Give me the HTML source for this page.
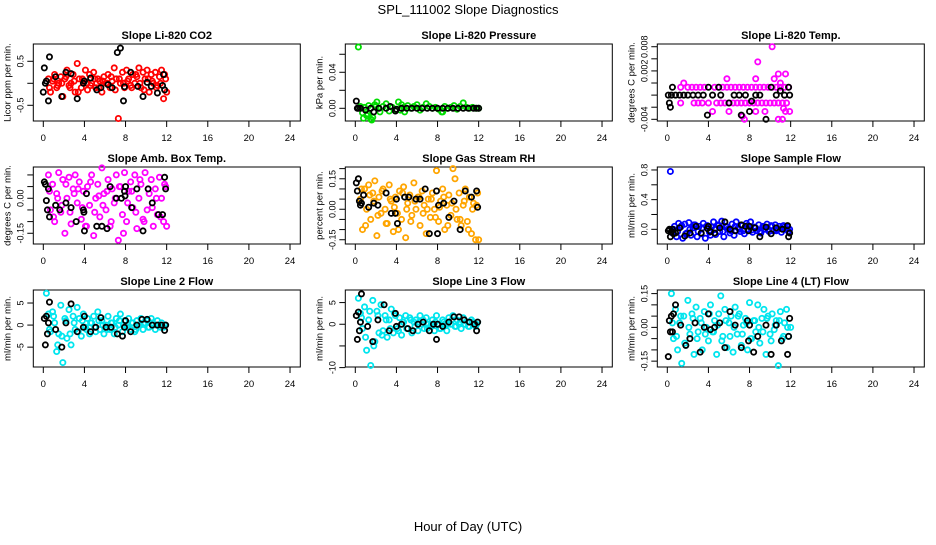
<!DOCTYPE html>
<html><head><meta charset="utf-8"><style>
body{margin:0;background:#fff;}
svg text{font-family:"Liberation Sans",sans-serif;}
</style></head><body>
<svg id="chart" width="936" height="540" viewBox="0 0 936 540" xmlns="http://www.w3.org/2000/svg">
<rect width="936" height="540" fill="#fff"/>
<text x="468" y="14" text-anchor="middle" font-size="13">SPL_111002  Slope Diagnostics</text>
<text x="468" y="531" text-anchor="middle" font-size="13">Hour of Day (UTC)</text>
<g id="panels"></g>
</svg>
<script>
// ---- data (hours, slope values) ----
const xTicks = [0,4,8,12,16,20,24];
const co2X = [0.5,0.7,0.9,1.1,1.3,1.5,1.7,1.9,2.1,2.3,2.5,2.7,2.9,3.1,3.3,3.5,3.7,3.9,4.1,4.3,4.5,4.7,4.9,5.1,5.3,5.5,5.7,5.9,6.1,6.3,6.5,6.7,6.9,7.1,7.3,7.5,7.7,7.9,8.1,8.3,8.5,8.7,8.9,9.1,9.3,9.5,9.7,9.9,10.1,10.3,10.5,10.7,10.9,11.1,11.3,11.5,11.7,11.9,0.6,1.0,1.4,1.8,2.2,2.6,3.0,3.4,3.8,4.2,4.6,5.0,5.4,5.8,6.2,6.6,7.0,7.4,7.8,8.2,8.6,9.0,9.4,9.8,10.2,10.6,11.0,11.4,11.8,12.0];
const co2Y = [0.1,-0.2,0.05,0.2,-0.1,0.0,0.15,-0.3,0.1,0.3,-0.05,0.0,0.2,-0.2,0.45,0.1,-0.1,0.05,0.3,-0.15,0.2,0.0,0.25,-0.1,0.1,0.05,-0.2,0.15,0.0,0.2,-0.1,0.05,0.35,0.1,-0.8,0.0,0.25,-0.1,0.3,0.1,-0.05,0.2,0.0,0.15,0.35,-0.1,0.25,0.1,0.3,-0.2,0.2,0.0,0.25,-0.05,0.15,0.3,-0.35,0.1,-0.1,0.1,-0.05,0.0,0.15,-0.1,0.05,-0.2,0.1,0.0,-0.05,0.1,-0.1,0.05,0.0,0.15,-0.15,0.1,0.0,0.05,-0.1,0.2,0.0,-0.15,0.1,0.05,-0.1,0.0,0.2,-0.2];
const co2BX = [0,0.1,0.2,0.3,0.5,0.6,1.2,1.8,2.2,2.7,3.3,3.9,4.0,4.6,5.2,5.6,6.3,6.7,7.2,7.5,7.8,7.9,8.5,9.2,9.7,10.1,10.5,11.1,11.6,11.7,11.8];
const co2BY = [-0.2,0.35,0.0,0.05,-0.4,0.6,0.15,-0.3,0.25,0.22,-0.35,0.0,0.05,0.12,-0.15,-0.1,-0.03,-0.1,0.7,0.8,-0.4,-0.08,0.25,-0.07,-0.3,0.02,-0.07,-0.22,-0.05,0.2,-0.15];

const presX = [0.3,0.5,0.7,0.9,1.1,1.3,1.5,1.7,1.9,2.1,2.4,2.7,3.0,3.3,3.6,3.9,4.2,4.5,4.8,5.1,5.4,5.7,6.0,6.3,6.6,6.9,7.2,7.5,7.8,8.1,8.4,8.7,9.0,9.3,9.6,9.9,10.2,10.5,10.8,11.1,11.4,11.7,12.0,0.8,1.2,1.6,2.0,4.4,4.7,8.5];
const presY = [0.068,0.002,-0.005,0.001,-0.008,0.003,-0.012,-0.01,0.004,0.007,-0.004,0.002,0.005,-0.003,0.001,-0.002,0.007,0.004,-0.004,0.003,0.0,0.002,0.004,-0.002,0.001,0.005,0.002,0.0,0.001,-0.001,-0.004,0.002,0.0,0.001,0.003,-0.001,0.002,0.006,0.001,0.0,0.001,0.0,0.0,-0.011,-0.006,-0.013,0.002,-0.002,0.001,-0.004];
const presBX = [0.1,0.2,0.3,0.5,1.0,1.5,1.8,2.3,3.0,3.4,3.9,4.0,4.5,5.0,5.5,6.0,6.5,7.0,7.5,8.0,8.5,9.0,9.5,10.0,10.5,11.0,11.5,11.8,12.0];
const presBY = [0.008,0,0,0,-0.002,0,-0.004,0,0,0.002,-0.003,-0.001,0,0,0,0,0,0,0,0,0,0,0,0,0,0,0,0,0];

const tempX = [1.3,2.0,2.4,2.8,3.2,3.6,4.6,5.0,5.4,5.8,6.2,6.6,7.0,7.4,7.8,8.2,8.6,9.0,9.4,9.8,10.2,10.6,11.0,11.4,11.8,1.3,2.6,3.0,3.4,4.0,4.8,5.2,5.6,6.0,6.4,6.8,7.2,7.6,8.0,8.4,8.8,9.2,9.6,10.0,10.4,10.8,11.2,11.6,1.6,5.8,8.8,10.2,8.6,10.8,11.5,10.4,11.0,4.4,6.0,7.3,7.5,8.6,9.5,10.8,11.2,11.5,11.9,11.3];
const tempY = [0.0013,0.0013,0.0013,0.0013,0.0013,0.0013,0.0013,0.0013,0.0013,0.0013,0.0013,0.0013,0.0013,0.0013,0.0013,0.0013,0.0013,0.0013,0.0013,0.0013,0.0013,0.0013,0.0013,0.0013,0.0013,-0.0013,-0.0013,-0.0013,-0.0013,-0.0013,-0.0013,-0.0013,-0.0013,-0.0013,-0.0013,-0.0013,-0.0013,-0.0013,-0.0013,-0.0013,-0.0013,-0.0013,-0.0013,-0.0013,-0.0013,-0.0013,-0.0013,-0.0013,0.002,0.0027,0.0055,0.008,0.0027,0.0035,0.0035,0.0027,0.002,-0.0027,-0.0027,-0.0035,-0.004,-0.0027,-0.0027,-0.004,-0.004,-0.0027,-0.0027,-0.0022];
const tempBX = [0.1,0.2,0.3,0.4,0.5,0.8,1.2,1.6,2.0,2.5,3.0,3.5,3.9,4.0,4.4,5.0,5.2,6.0,6.5,7.0,7.2,7.6,8.0,8.2,8.6,9.0,9.6,10.1,10.6,11.0,11.4,11.8,11.9];
const tempBY = [0,-0.0013,-0.002,0,0.0013,0,0,0,0,0,0,0,-0.0033,0.0013,0,0.0013,0,-0.0013,0,0,-0.0033,0,-0.0027,-0.001,0,0,-0.004,0.0013,0,0.0007,0,0.0013,0];

const ambX = [0.5,0.7,0.9,1.1,1.3,1.5,1.7,1.9,2.1,2.3,2.5,2.7,2.9,3.1,3.3,3.5,3.7,3.9,4.1,4.3,4.5,4.7,4.9,5.1,5.3,5.5,5.7,5.9,6.1,6.3,6.5,6.7,6.9,7.1,7.3,7.5,7.7,7.9,8.1,8.3,8.5,8.7,8.9,9.1,9.3,9.5,9.7,9.9,10.1,10.3,10.5,10.7,10.9,11.1,11.3,11.5,11.7,11.9,0.6,1.0,1.4,1.8,2.2,2.6,3.0,3.4,3.8,4.2,4.6,5.0,5.4,5.8,6.2,6.6,7.0,7.4,7.8,8.2,8.6,9.0,9.4,9.8,10.2,10.6,11.0,11.4,11.8,12.0];
const ambY = [0.1,-0.05,0.06,-0.1,0.02,0.11,-0.06,0.08,-0.15,0.0,0.09,-0.11,0.04,0.1,-0.02,0.07,-0.09,0.03,-0.12,0.05,-0.03,0.1,-0.16,0.0,0.06,-0.08,0.13,0.02,-0.05,0.08,-0.12,0.04,-0.02,0.1,-0.18,0.05,-0.07,0.11,-0.1,0.03,0.07,-0.04,0.1,-0.13,0.0,0.06,-0.09,0.11,-0.05,0.02,0.08,-0.12,0.04,-0.07,0.09,0.0,-0.1,0.05,0.03,-0.08,0.0,-0.03,0.06,-0.06,0.02,0.04,-0.04,-0.12,0.07,-0.06,0.01,-0.03,0.03,-0.1,0.0,0.05,-0.15,-0.02,0.03,-0.06,0.08,-0.1,0.04,-0.04,0.0,-0.08,0.06,-0.12];
const ambBX = [0.1,0.2,0.3,0.4,0.5,0.6,1.2,1.6,2.2,2.7,3.2,3.9,3.95,4.0,4.2,5.2,5.7,6.2,6.5,7.1,7.6,7.9,7.95,8.0,8.6,9.1,9.7,10.2,10.6,11.2,11.6,11.8,11.9];
const ambBY = [0.07,0.06,-0.01,-0.05,0.04,-0.08,-0.03,-0.05,-0.02,-0.04,-0.1,-0.05,-0.06,-0.14,0.02,-0.12,-0.12,-0.13,0.05,0.0,0.0,0.03,0.01,0.05,-0.04,0.04,-0.14,0.04,-0.02,-0.07,-0.07,0.09,0.04];

const rhX = [0.5,0.7,0.9,1.1,1.3,1.5,1.7,1.9,2.1,2.3,2.5,2.7,2.9,3.1,3.3,3.5,3.7,3.9,4.1,4.3,4.5,4.7,4.9,5.1,5.3,5.5,5.7,5.9,6.1,6.3,6.5,6.7,6.9,7.1,7.3,7.5,7.7,7.9,8.1,8.3,8.5,8.7,8.9,9.1,9.3,9.5,9.7,9.9,10.1,10.3,10.5,10.7,10.9,11.1,11.3,11.5,11.7,11.9,0.6,1.0,1.4,1.8,2.2,2.6,3.0,3.4,3.8,4.2,4.6,5.0,5.4,5.8,6.2,6.6,7.0,7.4,7.8,8.2,8.6,9.0,9.4,9.8,10.2,10.6,11.0,11.4,11.8,12.0];
const rhY = [0.05,-0.1,0.1,0.0,0.12,-0.05,0.08,0.14,-0.13,0.06,-0.02,0.1,0.0,-0.07,0.12,0.04,-0.11,0.06,-0.02,0.09,-0.05,0.11,-0.14,0.03,0.07,-0.03,0.13,0.0,0.06,-0.08,0.09,0.02,-0.12,0.05,-0.04,0.08,0.0,0.19,-0.06,0.04,0.1,-0.1,0.02,0.07,-0.03,0.2,0.15,-0.05,0.08,-0.08,0.02,0.1,-0.06,0.06,-0.12,0.03,-0.15,0.08,0.1,-0.08,0.07,0.04,-0.03,0.09,-0.07,0.05,0.01,-0.1,0.08,0.0,-0.06,0.04,0.06,-0.02,0.0,0.05,-0.04,0.01,0.06,-0.08,0.03,0.0,-0.05,0.04,-0.1,0.0,0.02,-0.15];
const rhBX = [0.1,0.2,0.3,0.4,0.5,0.6,0.8,1.3,1.8,2.2,3.0,3.5,3.9,4.0,4.1,4.8,5.2,5.9,6.3,6.8,7.2,7.9,8.0,8.1,8.6,9.1,9.6,10.2,10.7,11.3,11.8,11.9];
const rhBY = [0.13,0.09,0.15,0.04,0.02,0.03,0.07,0.01,0.03,0.02,0.08,-0.02,-0.02,0.05,-0.07,0.06,0.06,0.05,0.05,0.1,-0.12,0.09,-0.12,0.02,0.03,-0.04,0.04,-0.1,0.09,0.06,0.09,0.01];

const flowX = [0.3,0.5,0.7,0.9,1.1,1.3,1.5,1.7,1.9,2.1,2.3,2.5,2.7,2.9,3.1,3.3,3.5,3.7,3.9,4.1,4.3,4.5,4.7,4.9,5.1,5.3,5.5,5.7,5.9,6.1,6.3,6.5,6.7,6.9,7.1,7.3,7.5,7.7,7.9,8.1,8.3,8.5,8.7,8.9,9.1,9.3,9.5,9.7,9.9,10.1,10.3,10.5,10.7,10.9,11.1,11.3,11.5,11.7,11.9,0.6,1.0,1.4,1.8,2.2,2.6,3.0,3.4,3.8,4.2,4.6,5.0,5.4,5.8,6.2,6.6,7.0,7.4,7.8,8.2,8.6,9.0,9.4,9.8,10.2,10.6,11.0,11.4,11.8];
const flowY = [0.78,-0.05,0.04,-0.1,0.08,0.03,-0.12,0.07,-0.05,0.09,-0.08,0.02,0.06,-0.1,0.04,-0.06,0.08,-0.12,0.05,-0.04,0.03,0.1,-0.07,0.06,-0.03,0.11,-0.1,0.04,0.0,-0.05,0.07,-0.08,0.1,0.02,-0.03,0.05,-0.06,0.08,0.0,0.1,-0.04,0.03,-0.02,0.06,-0.05,0.04,0.0,0.07,-0.03,0.05,-0.02,0.06,0.0,0.04,-0.04,0.05,0.0,0.03,0.0,0.0,-0.03,0.05,-0.06,0.0,0.06,-0.03,0.02,0.04,-0.08,0.0,0.05,-0.03,0.03,-0.02,0.04,0.0,-0.02,0.05,-0.01,0.02,-0.03,0.03,0.0,0.04,-0.02,0.01,0.03,-0.03];
const flowBX = [0.1,0.2,0.3,0.4,0.5,0.6,0.8,1.2,1.7,2.2,2.8,3.3,3.9,4.0,4.2,4.6,5.1,5.6,6.1,6.6,7.2,7.6,7.9,8.0,8.5,9.0,9.6,10.1,10.6,11.2,11.7,11.8,11.9];
const flowBY = [-0.02,0.0,-0.1,-0.03,0.0,-0.06,-0.05,0.02,-0.09,-0.05,0.04,-0.05,0.01,0.04,-0.03,-0.05,0.02,0.1,0.0,-0.02,0.06,0.04,-0.02,0.04,0.02,-0.1,0.03,-0.06,0.02,0.0,0.05,-0.1,-0.05];

const l2X = [0.3,0.5,0.7,0.9,1.1,1.3,1.5,1.7,1.9,2.1,2.3,2.5,2.7,2.9,3.1,3.3,3.5,3.7,3.9,4.1,4.3,4.5,4.7,4.9,5.1,5.3,5.5,5.7,5.9,6.1,6.3,6.5,6.7,6.9,7.1,7.3,7.5,7.7,7.9,8.1,8.3,8.5,8.7,8.9,9.1,9.3,9.5,9.7,9.9,10.1,10.3,10.5,10.7,10.9,11.1,11.3,11.5,11.7,11.9,0.6,1.0,1.4,1.8,2.2,2.6,3.0,3.4,3.8,4.2,4.6,5.0,5.4,5.8,6.2,6.6,7.0,7.4,7.8,8.2,8.6,9.0,9.4,9.8,10.2,10.6,11.0,11.4,11.8];
const l2Y = [7.2,2.5,-1.5,3.0,0.5,-6.0,-2.0,4.5,-8.5,1.5,-3.0,3.5,-4.5,2.0,-1.0,4.0,1.5,-2.5,2.5,-0.5,1.5,-2.0,0.5,2.0,-1.5,3.0,-1.0,1.0,-2.0,0.0,2.0,-1.0,0.5,-2.0,1.5,0.0,2.5,-1.5,1.0,-0.5,1.5,-1.0,0.5,-1.5,1.0,0.0,1.5,-1.0,0.5,1.0,-0.5,1.5,0.0,-1.0,1.0,0.0,0.5,-0.5,0.0,-1.0,2.0,-4.5,-2.5,1.0,-2.0,0.5,-1.5,1.0,-1.0,0.5,-0.5,1.0,0.0,-1.0,0.5,-0.5,1.0,0.0,-0.5,0.5,-1.0,0.0,0.5,-0.5,0.5,0.0,-0.5,0.0];
const l2BX = [0.1,0.2,0.3,0.4,0.5,0.6,1.2,1.8,2.2,2.7,3.3,3.9,4.0,4.6,5.1,5.6,6.1,6.6,7.2,7.7,7.9,8.0,8.5,9.1,9.6,10.1,10.6,11.1,11.5,11.8,11.9];
const l2BY = [1.5,-4.5,2.0,-2.0,0.5,5.2,-1.0,-5.0,0.5,4.8,-1.5,-0.5,2.0,-1.5,-0.5,1.7,-0.5,-0.5,-2.0,-2.5,-0.5,1.0,-1.5,0.0,1.3,1.3,0.0,0.0,0.0,-1.2,0.0];

const l3X = [0.3,0.5,0.7,0.9,1.1,1.3,1.5,1.7,1.9,2.1,2.3,2.5,2.7,2.9,3.1,3.3,3.5,3.7,3.9,4.1,4.3,4.5,4.7,4.9,5.1,5.3,5.5,5.7,5.9,6.1,6.3,6.5,6.7,6.9,7.1,7.3,7.5,7.7,7.9,8.1,8.3,8.5,8.7,8.9,9.1,9.3,9.5,9.7,9.9,10.1,10.3,10.5,10.7,10.9,11.1,11.3,11.5,11.7,11.9,0.6,1.0,1.4,1.8,2.2,2.6,3.0,3.4,3.8,4.2,4.6,5.0,5.4,5.8,6.2,6.6,7.0,7.4,7.8,8.2,8.6,9.0,9.4,9.8,10.2,10.6,11.0,11.4,11.8];
const l3Y = [6.0,2.5,-1.0,4.0,-6.0,1.0,-9.5,5.5,-4.0,3.0,-2.0,4.5,-1.5,2.0,-3.0,1.0,3.5,-2.0,2.0,-1.0,1.5,-2.5,0.5,2.0,-1.0,1.5,-2.0,0.5,1.0,-1.5,2.0,0.0,-1.0,1.5,0.0,-0.5,1.0,-1.5,2.0,0.0,-1.0,1.0,0.0,-1.5,1.5,0.0,2.0,-0.5,1.0,0.0,-1.0,1.5,0.0,0.5,-0.5,1.0,0.0,-0.5,0.5,1.5,-3.0,3.0,-5.0,2.0,-2.5,1.0,-1.0,2.5,-1.5,0.5,-1.0,1.0,-0.5,0.5,1.0,-1.0,0.0,0.5,-1.0,0.5,0.0,1.0,-0.5,0.5,0.0,-0.5,0.5,0.0];
const l3BX = [0.1,0.2,0.3,0.4,0.5,0.6,1.2,1.7,2.2,2.8,3.3,3.9,4.0,4.5,5.1,5.6,6.1,6.6,7.2,7.6,7.9,8.0,8.5,9.1,9.6,10.1,10.6,11.1,11.6,11.8,11.9];
const l3BY = [2.0,-3.5,2.8,-1.5,0.5,7.0,-0.5,-4.0,1.0,4.5,-1.5,2.5,-0.5,0.0,-1.0,-1.5,0.0,0.5,-1.5,0.0,-3.5,0.0,-0.5,0.5,1.7,1.7,1.0,0.5,0.0,-1.5,0.5];

const l4X = [0.4,0.6,0.8,1.0,1.2,1.4,1.6,1.8,2.0,2.2,2.4,2.6,2.8,3.0,3.2,3.4,3.6,3.8,4.0,4.2,4.4,4.6,4.8,5.0,5.2,5.4,5.6,5.8,6.0,6.2,6.4,6.6,6.8,7.0,7.2,7.4,7.6,7.8,8.0,8.2,8.4,8.6,8.8,9.0,9.2,9.4,9.6,9.8,10.0,10.2,10.4,10.6,10.8,11.0,11.2,11.4,11.6,11.8,12.0,0.5,0.9,1.3,1.7,2.1,2.5,2.9,3.3,3.7,4.1,4.5,4.9,5.3,5.7,6.1,6.5,6.9,7.3,7.7,8.1,8.5,8.9,9.3,9.7,10.1,10.5,10.9,11.3,11.7];
const l4Y = [0.15,-0.05,0.08,-0.1,0.02,-0.16,0.05,-0.08,0.12,-0.03,0.06,-0.12,0.09,-0.02,0.04,-0.1,0.07,0.0,-0.06,0.1,-0.02,0.03,-0.12,0.06,0.14,-0.04,0.08,-0.09,0.02,0.05,-0.11,0.09,-0.03,0.06,-0.08,0.01,0.04,-0.1,0.11,-0.05,0.03,-0.02,0.1,-0.07,0.04,0.08,-0.12,0.05,-0.03,0.06,-0.01,0.03,-0.17,0.07,-0.05,0.02,0.08,-0.04,0.0,0.02,-0.04,0.05,-0.07,0.0,0.04,-0.05,0.02,-0.03,0.06,-0.02,0.01,-0.06,0.03,-0.04,0.0,0.05,-0.03,0.02,-0.05,0.03,0.0,-0.02,0.04,-0.06,0.01,0.03,-0.04,0.0];
const l4BX = [0.1,0.2,0.3,0.4,0.5,0.6,0.8,1.3,1.8,2.2,2.7,3.2,3.6,4.0,4.2,4.6,5.1,5.6,6.1,6.6,7.2,7.8,7.9,8.0,8.4,8.8,9.6,10.1,10.6,11.1,11.7,11.8,11.9];
const l4BY = [-0.13,0.03,-0.02,0.05,-0.02,0.06,0.1,0.01,-0.08,-0.05,0.02,-0.11,0.0,0.06,-0.01,0.0,0.02,-0.09,0.07,0.01,-0.09,0.03,-0.06,0.01,-0.11,-0.04,0.01,-0.12,0.01,-0.06,-0.12,-0.04,0.04];

// y-axis ticks / labels per panel
const co2Ticks = [-0.5,0,0.5];          const co2Labels = ["-0.5","","0.5"];
const presTicks = [0,0.02,0.04,0.06];   const presLabels = ["0.00","","0.04",""];
const tempTicks = [-0.004,-0.002,0,0.002,0.004,0.006,0.008]; const tempLabels = ["-0.004","","","","0.002","","0.008"];
const ambTicks = [-0.15,-0.1,-0.05,0,0.05,0.1];  const ambLabels = ["-0.15","","","0.00","",""];
const rhTicks = [-0.15,-0.1,-0.05,0,0.05,0.1,0.15,0.2]; const rhLabels = ["-0.15","","","0.00","","","0.15",""];
const flowTicks = [0,0.2,0.4,0.6,0.8];  const flowLabels = ["0.0","","0.4","","0.8"];
const l2Ticks = [-5,0,5];               const l2Labels = ["-5","0","5"];
const l3Ticks = [-10,-5,0,5];           const l3Labels = ["-10","","0","5"];
const l4Ticks = [-0.15,-0.1,-0.05,0,0.05,0.1,0.15]; const l4Labels = ["-0.15","","","0.00","","","0.15"];

// ---- layout ----
const panels = [
 {name:"co2",title:"Slope Li-820 CO2",ylab:"Licor ppm per min.",col:0,row:0,ymin:-0.857,ymax:0.893,ticks:co2Ticks,labels:co2Labels,color:"#ff0000",x:co2X,y:co2Y,bx:co2BX,by:co2BY},
 {name:"pressure",title:"Slope Li-820 Pressure",ylab:"kPa per min.",col:1,row:0,ymin:-0.0141,ymax:0.0714,ticks:presTicks,labels:presLabels,color:"#00dd00",x:presX,y:presY,bx:presBX,by:presBY},
 {name:"temp",title:"Slope Li-820 Temp.",ylab:"degrees C per min.",col:2,row:0,ymin:-0.00428,ymax:0.00845,ticks:tempTicks,labels:tempLabels,color:"#ff00ff",x:tempX,y:tempY,bx:tempBX,by:tempBY},
 {name:"amb-box-temp",title:"Slope Amb. Box Temp.",ylab:"degrees C per min.",col:0,row:1,ymin:-0.196,ymax:0.134,ticks:ambTicks,labels:ambLabels,color:"#ff00ff",x:ambX,y:ambY,bx:ambBX,by:ambBY},
 {name:"gas-stream-rh",title:"Slope Gas Stream RH",ylab:"percent per min.",col:1,row:1,ymin:-0.171,ymax:0.208,ticks:rhTicks,labels:rhLabels,color:"#ffa500",x:rhX,y:rhY,bx:rhBX,by:rhBY},
 {name:"sample-flow",title:"Slope Sample Flow",ylab:"ml/min per min.",col:2,row:1,ymin:-0.198,ymax:0.84,ticks:flowTicks,labels:flowLabels,color:"#0000ff",x:flowX,y:flowY,bx:flowBX,by:flowBY},
 {name:"line2-flow",title:"Slope Line 2 Flow",ylab:"ml/min per min.",col:0,row:2,ymin:-9.5,ymax:7.95,ticks:l2Ticks,labels:l2Labels,color:"#00e5ee",x:l2X,y:l2Y,bx:l2BX,by:l2BY},
 {name:"line3-flow",title:"Slope Line 3 Flow",ylab:"ml/min per min.",col:1,row:2,ymin:-9.86,ymax:7.9,ticks:l3Ticks,labels:l3Labels,color:"#00e5ee",x:l3X,y:l3Y,bx:l3BX,by:l3BY},
 {name:"line4-flow",title:"Slope Line 4 (LT) Flow",ylab:"ml/min per min.",col:2,row:2,ymin:-0.176,ymax:0.166,ticks:l4Ticks,labels:l4Labels,color:"#00e5ee",x:l4X,y:l4Y,bx:l4BX,by:l4BY}
];
const NS="http://www.w3.org/2000/svg";
const root=document.getElementById('panels');
function mk(tag,attrs,parent){const e=document.createElementNS(NS,tag);for(const k in attrs)e.setAttribute(k,attrs[k]);parent.appendChild(e);return e;}
panels.forEach(p=>{
  const left=33.3+p.col*312, right=left+267, top=44+p.row*123, bottom=top+77;
  const x0=left+10, xs=10.28;
  const X=h=>x0+h*xs;
  const Y=v=>bottom-(v-p.ymin)/(p.ymax-p.ymin)*(bottom-top);
  const g=mk('g',{},root);
  
  
  const t=mk('text',{x:(left+right)/2,y:top-5,'text-anchor':'middle','font-size':'11','font-weight':'bold'},g);
  t.textContent=p.title;
  
  
  const yl=mk('text',{x:0,y:0,'text-anchor':'middle','font-size':'9.5',transform:`translate(${left-23},${(top+bottom)/2}) rotate(-90)`},g);
  yl.textContent=p.ylab;
  
  
  const box=mk('rect',{x:left,y:top,width:right-left,height:bottom-top,fill:'none',stroke:'#000','stroke-width':'1'},g);
  
  
  const xa=mk('g',{},g);
  
  
  xTicks.forEach(h=>{
    mk('line',{x1:X(h),x2:X(h),y1:bottom,y2:bottom+6,stroke:'#000'},xa);
    const tl=mk('text',{x:X(h),y:bottom+20,'text-anchor':'middle','font-size':'9.5'},xa);
    tl.textContent=String(h);
    
    
  });
  const ya=mk('g',{},g);
  
  
  p.ticks.forEach((v,i)=>{
    mk('line',{x1:left-6,x2:left,y1:Y(v),y2:Y(v),stroke:'#000'},ya);
    if(p.labels[i]){
      const tl=mk('text',{x:0,y:0,'text-anchor':'middle','font-size':'9',transform:`translate(${left-10},${Y(v)}) rotate(-90)`},ya);
      tl.textContent=p.labels[i];
      
      
    }
  });
  const cs=mk('g',{fill:'none',stroke:p.color,'stroke-width':'1.8'},g);
  
  
  const n=Math.min(p.x.length,p.y.length);
  for(let i=0;i<n;i++){
    const c=mk('circle',{cx:X(p.x[i]),cy:Y(p.y[i]),r:2.6},cs);
    
    
  }
  const bs=mk('g',{fill:'none',stroke:'#000','stroke-width':'1.8'},g);
  
  
  const m=Math.min(p.bx.length,p.by.length);
  for(let i=0;i<m;i++){
    const c=mk('circle',{cx:X(p.bx[i]),cy:Y(p.by[i]),r:2.6},bs);
    
    
  }
});
</script>
</body></html>
